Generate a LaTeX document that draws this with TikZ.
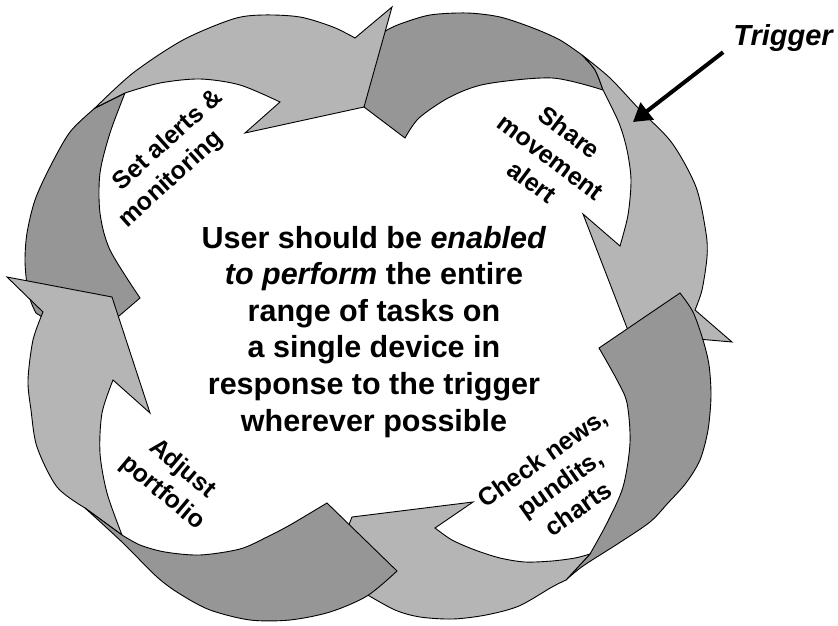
\documentclass[tikz,border=0pt]{standalone}
\usepackage{fontspec}
\setmainfont{Liberation Sans}
\usepackage{tikz}
\usetikzlibrary{arrows.meta}
\definecolor{arrowlight}{HTML}{B5B5B5}
\definecolor{arrowdark}{HTML}{969696}
\tikzset{
    lightpart/.style={fill=arrowlight, draw=black, line width=0.9pt, line join=miter},
    darkpart/.style={fill=arrowdark, draw=black, line width=0.9pt, line join=miter},
    steplabel/.style={font=\fontsize{25}{31}\selectfont\bfseries, align=center, inner sep=0pt},
    centretext/.style={font=\fontsize{30.5}{36.6}\selectfont\bfseries, align=center, inner sep=0pt},
    triggerarrow/.style={line width=4pt, -{Triangle[length=18pt,width=21pt]}}
}
\begin{document}
\begin{tikzpicture}[x=1pt, y=-1pt]
        \useasboundingbox (0,0) rectangle (838,626);

        % twisted tail of the right arrow (lies under the top head)
        \path[darkpart] (405,138) -- (364,107) -- (372,42) -- (387,30)
            -- plot[smooth] coordinates {(387,30) (400,24) (430,15) (467,13) (500,17) (533,28) (560,40) (582,55)}
            -- plot[smooth] coordinates {(582,55) (595,70) (603,90)}
            -- plot[smooth] coordinates {(603,90) (552,78) (486,84) (450,97) (419,118) (405,138)} -- cycle;

        % twisted tail of the top arrow (left side)
        \path[darkpart] (140,298) -- (112,322) -- (50,322) -- (36,313)
            -- plot[smooth] coordinates {(36,313) (31,302) (27,285) (25,260) (27,233) (35,200) (50,167) (70,132) (95,108)}
            -- (125,93)
            -- plot[smooth] coordinates {(125,93) (110,133) (100,173) (100,213) (110,250) (140,298)} -- cycle;

        % top arrow
        \path[lightpart] (95,108)
            -- plot[smooth] coordinates {(95,108) (133,73) (183,40) (233,19) (263,15) (300,17) (333,27) (355,38)}
            -- (392,7) -- (364,107) -- (245,133) -- (280,102)
            -- plot[smooth] coordinates {(280,102) (240,85) (200,79) (160,83) (125,93)} -- cycle;

        % left arrow
        \path[lightpart] (85,508)
            -- plot[smooth] coordinates {(85,508) (57,487) (37,447) (31,410) (28,380) (33,340) (43,312)}
            -- (7,277) -- (112,297) -- (150,413) -- (113,380)
            -- plot[smooth] coordinates {(113,380) (102,413) (100,453) (107,493) (122,535)} -- cycle;

        % right arrow
        \path[lightpart] (582,55)
            -- plot[smooth] coordinates {(582,55) (610,78) (640,110) (672,143) (696,187) (706,233) (707,257) (702,290) (695,310)}
            -- (732,342) -- (629,333) -- (583,214) -- (620,246)
            -- plot[smooth] coordinates {(620,246) (628,215) (631,180) (627,150) (619,123) (603,90)}
            -- plot[smooth] coordinates {(603,90) (595,70) (582,55)} -- cycle;

        % twisted tail of the bottom arrow (right side)
        \path[darkpart] (680,293)
            -- plot[smooth] coordinates {(680,293) (693,312) (703,340) (709,365) (711,396) (708,430) (700,460) (686,483) (668,503) (650,522) (619,543) (583,566) (566,580)}
            -- (590,554)
            -- plot[smooth] coordinates {(590,554) (607,523) (623,487) (630,443) (627,403) (617,380) (599,348)} -- cycle;

        % bottom arrow
        \path[lightpart] (566,580)
            -- plot[smooth] coordinates {(566,580) (552,587) (519,606) (486,615) (453,619) (420,617) (395,610) (366,594)}
            -- (318,602) -- (352,517) -- (473,502) -- (435,528)
            -- plot[smooth] coordinates {(435,528) (452,540) (475,550) (500,558) (525,562) (552,561) (575,558) (590,554)} -- cycle;

        % twisted tail of the left arrow (bottom side)
        \path[darkpart] (327,503) -- (397,571)
            -- plot[smooth] coordinates {(397,571) (367,596) (330,612) (290,620) (250,620) (210,610) (180,594) (157,577) (123,543) (85,508)}
            -- (122,535)
            -- plot[smooth] coordinates {(122,535) (140,545) (165,552) (200,555) (240,549) (267,537) (290,525) (327,503)} -- cycle;

        % step labels
        \node[steplabel, rotate=42] (alerts) at (179,152) {Set alerts \&\\monitoring\hspace*{48pt}};
        \node[steplabel, rotate=-37] (share) at (551,157) {Share\\movement\\alert};
        \node[steplabel, rotate=35] (news) at (560,483) {Check news,\\pundits,\\charts};
        \node[steplabel, rotate=-40] (adjust) at (172,481) {Adjust\\portfolio};

        % centre text
        \node[centretext] (goal) at (374,331.8) {User should be \textit{enabled}\\\textit{to perform} the entire\\range of tasks on\\a single device in\\response to the trigger\\wherever possible};

        % trigger
        \coordinate (triggertip) at (633,122);
        \node[font=\fontsize{29}{34}\selectfont\bfseries\itshape, inner sep=0pt, anchor=base] (trigger) at (783,46) {Trigger};
        \draw[triggerarrow] ([xshift=-10pt]trigger.south west) -- (triggertip);
\end{tikzpicture}
\end{document}
